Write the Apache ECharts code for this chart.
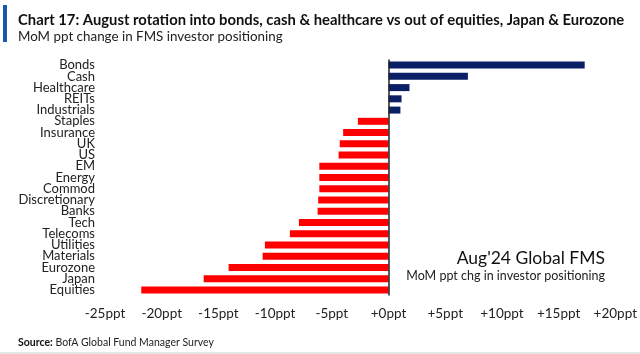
<!DOCTYPE html>
<html>
<head>
<meta charset="utf-8">
<script src="https://cdn.jsdelivr.net/npm/echarts@6/dist/echarts.min.js"></script>
<style>
  html, body { margin: 0; padding: 0; background: #fff; }
  #chart { width: 640px; height: 354px; }
</style>
</head>
<body>
<div id="chart"></div>
<script>
// MoM ppt change in FMS investor positioning (Aug'24)
const categories = ['Bonds', 'Cash', 'Healthcare', 'REITs', 'Industrials', 'Staples', 'Insurance', 'UK', 'US', 'EM',
  'Energy', 'Commod', 'Discretionary', 'Banks', 'Tech', 'Telecoms', 'Utilities', 'Materials', 'Eurozone', 'Japan', 'Equities'];
const changes = [17.3, 7.0, 1.85, 1.15, 1.05, -2.7, -4.0, -4.3, -4.4, -6.1,
  -6.1, -6.1, -6.2, -6.25, -7.9, -8.7, -10.9, -11.1, -14.1, -16.3, -21.8];
const xTicks = [-25, -20, -15, -10, -5, 0, 5, 10, 15, 20];

const font = 'Lato, "Open Sans", sans-serif';

const chart = echarts.init(document.getElementById('chart'));

const option = {
  animation: false,
  title: {
    text: "Chart 17: August rotation into bonds, cash & healthcare vs out of equities, Japan & Eurozone",
    subtext: 'MoM ppt change in FMS investor positioning',
    left: 13,
    top: 8,
    itemGap: 2,
    textStyle: { fontFamily: font, fontSize: 14.8, fontWeight: 'bold', color: '#111' },
    subtextStyle: { fontFamily: font, fontSize: 13.4, color: '#222' }
  },
  grid: { left: 105, right: 22, top: 59.5, bottom: 58.5 },
  xAxis: {
    type: 'value',
    min: xTicks[0],
    max: xTicks[xTicks.length - 1],
    interval: 5,
    axisLine: { show: false },
    axisTick: { show: false },
    splitLine: { show: false },
    axisLabel: {
      margin: 11,
      fontFamily: font,
      fontSize: 13.5,
      color: '#222',
      formatter: v => (v >= 0 ? '+' : '') + v + 'ppt'
    }
  },
  yAxis: {
    type: 'category',
    data: categories,
    inverse: true,
    axisLine: { show: false, onZero: false },
    axisTick: { show: false },
    axisLabel: { interval: 0, margin: 10, fontFamily: font, fontSize: 13, color: '#222', lineHeight: 11 }
  },
  series: [{
    type: 'bar',
    data: changes,
    barWidth: 7,
    itemStyle: {
      color: p => (p.value >= 0 ? '#0b1f66' : '#ff0000')
    },
    markLine: {
      silent: true,
      symbol: 'none',
      label: { show: false },
      lineStyle: { color: '#222', width: 1.5, type: 'solid' },
      data: [{ xAxis: 0 }]
    }
  }],
  graphic: [
    { type: 'rect', shape: { x: 3, y: 5, width: 4, height: 37 }, style: { fill: '#1c56b0' } },
    {
      type: 'text', right: 35, top: 249,
      style: { text: "Aug'24 Global FMS", font: '17.5px ' + font, fill: '#111' }
    },
    {
      type: 'text', right: 35, top: 269,
      style: { text: 'MoM ppt chg in investor positioning', font: '12.5px ' + font, fill: '#222' }
    },
    {
      type: 'text', left: 18, top: 337,
      style: {
        text: '{b|Source:} BofA Global Fund Manager Survey',
        font: '10.5px ' + font, fill: '#222',
        rich: { b: { fontWeight: 'bold', fontFamily: font, fontSize: 10.5, fill: '#111' } }
      }
    },
    { type: 'rect', shape: { x: 0, y: 352, width: 640, height: 2 }, style: { fill: '#e6e6e6' } }
  ]
};

chart.setOption(option);
</script>
</body>
</html>
